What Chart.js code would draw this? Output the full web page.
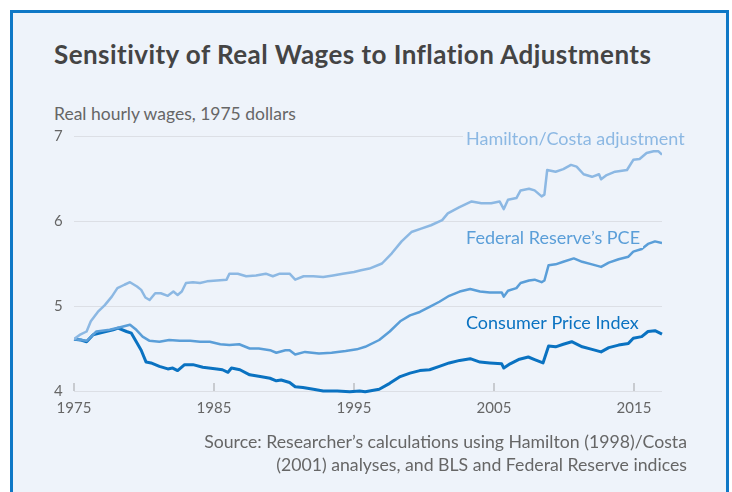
<!DOCTYPE html>
<html>
<head>
<meta charset="utf-8">
<script src="https://cdn.jsdelivr.net/npm/chart.js@4.4.0/dist/chart.umd.min.js"></script>
<style>
    body { margin: 0; background: #fff; font-family: Lato, sans-serif; overflow: hidden; }
    .panel { position: absolute; left: 10px; top: 10px; width: 713px; height: 500px; border: 3px solid #0f78c6; background: #eef3fa; }
    .title { position: absolute; left: 54px; top: 41px; font-size: 26px; line-height: 1; font-weight: bold; letter-spacing: 0.45px; color: #444; white-space: nowrap; }
    .subtitle { position: absolute; left: 54px; top: 105px; font-size: 17.5px; line-height: 1; color: #666; white-space: nowrap; }
    .source { position: absolute; right: 45px; top: 431px; font-size: 17.7px; line-height: 22.5px; color: #666; text-align: right; white-space: nowrap; }
    .chart-wrap { position: absolute; left: 0; top: 0; width: 732px; height: 492px; }
</style>
</head>
<body>
<div class="panel"></div>
<div class="title">Sensitivity of Real Wages to Inflation Adjustments</div>
<div class="subtitle">Real hourly wages, 1975 dollars</div>
<div class="chart-wrap"><canvas id="wageChart"></canvas></div>
<div class="source">Source: Researcher’s calculations using Hamilton (1998)/Costa<br>(2001) analyses, and BLS and Federal Reserve indices</div>
<script>
// Data
const hamiltonYears = [1975.0, 1975.4, 1975.9, 1976.2, 1976.7, 1977.2, 1977.7, 1978.1, 1978.6, 1979.0, 1979.5, 1979.8,
    1980.1, 1980.4, 1980.8, 1981.2, 1981.7, 1982.1, 1982.4, 1982.7, 1983.0, 1983.5, 1984.0, 1984.5, 1985.2, 1985.9,
    1986.1, 1986.7, 1987.3, 1988.0, 1988.7, 1989.2, 1989.7, 1990.4, 1990.8, 1991.4, 1992.1, 1992.8, 1993.5, 1994.2,
    1995.0, 1995.5, 1996.1, 1997.0, 1997.7, 1998.4, 1999.1, 1999.8, 2000.5, 2001.3, 2001.7, 2002.5, 2003.4, 2004.1,
    2004.8, 2005.4, 2005.7, 2006.0, 2006.6, 2006.9, 2007.5, 2007.9, 2008.4, 2008.6, 2008.8, 2009.4, 2009.95, 2010.5,
    2010.9, 2011.4, 2012.0, 2012.5, 2012.65, 2013.05, 2013.65, 2014.5, 2014.95, 2015.4, 2015.9, 2016.4, 2016.75, 2017.0];
const hamiltonValues = [4.61, 4.66, 4.70, 4.82, 4.93, 5.01, 5.11, 5.21, 5.25, 5.28, 5.23, 5.19,
    5.10, 5.07, 5.15, 5.15, 5.12, 5.17, 5.13, 5.17, 5.27, 5.28, 5.27, 5.29, 5.30, 5.31,
    5.38, 5.38, 5.35, 5.36, 5.38, 5.35, 5.38, 5.38, 5.31, 5.35, 5.35, 5.34, 5.36, 5.38,
    5.40, 5.42, 5.44, 5.50, 5.62, 5.76, 5.87, 5.91, 5.95, 6.01, 6.09, 6.16, 6.23, 6.21,
    6.21, 6.23, 6.14, 6.25, 6.27, 6.36, 6.38, 6.36, 6.29, 6.31, 6.60, 6.58, 6.61, 6.66,
    6.64, 6.55, 6.52, 6.55, 6.49, 6.54, 6.58, 6.60, 6.72, 6.73, 6.80, 6.82, 6.82, 6.78];

const pceYears = [1975.0, 1975.5, 1975.9, 1976.6, 1977.55, 1978.3, 1979.0, 1979.45, 1979.9, 1980.4, 1981.1, 1981.8,
    1982.55, 1983.3, 1984.0, 1984.7, 1985.45, 1986.1, 1986.8, 1987.55, 1988.2, 1989.0, 1989.45, 1990.1, 1990.4, 1990.8,
    1991.5, 1992.5, 1993.4, 1994.4, 1995.2, 1995.8, 1996.8, 1997.55, 1998.3, 1999.0, 1999.7, 2000.4, 2001.1, 2001.8,
    2002.55, 2003.3, 2004.0, 2004.7, 2005.55, 2005.7, 2006.0, 2006.6, 2006.9, 2007.5, 2007.9, 2008.4, 2008.6, 2008.9,
    2009.4, 2009.95, 2010.7, 2011.3, 2012.0, 2012.65, 2013.2, 2013.9, 2014.6, 2014.95, 2015.55, 2016.0, 2016.5, 2017.0];
const pceValues = [4.61, 4.60, 4.59, 4.70, 4.72, 4.75, 4.78, 4.72, 4.64, 4.59, 4.58, 4.60,
    4.59, 4.59, 4.58, 4.58, 4.55, 4.54, 4.55, 4.50, 4.50, 4.48, 4.45, 4.48, 4.48, 4.43,
    4.46, 4.44, 4.45, 4.47, 4.49, 4.52, 4.60, 4.70, 4.82, 4.89, 4.93, 4.99, 5.05, 5.12,
    5.17, 5.20, 5.17, 5.16, 5.16, 5.11, 5.18, 5.21, 5.27, 5.30, 5.31, 5.28, 5.30, 5.48,
    5.49, 5.52, 5.56, 5.52, 5.49, 5.46, 5.51, 5.55, 5.58, 5.64, 5.67, 5.73, 5.76, 5.74];

const cpiYears = [1975.0, 1975.5, 1975.9, 1976.35, 1977.05, 1977.8, 1978.15, 1978.75, 1979.1, 1979.45, 1979.8, 1980.15,
    1980.5, 1981.1, 1981.7, 1982.05, 1982.4, 1982.9, 1983.5, 1984.2, 1985.2, 1985.6, 1986.0, 1986.25, 1986.85, 1987.55,
    1988.3, 1989.0, 1989.45, 1989.8, 1990.4, 1990.8, 1991.35, 1992.1, 1992.8, 1993.8, 1994.7, 1995.4, 1995.8, 1996.8,
    1997.55, 1998.3, 1999.0, 1999.7, 2000.4, 2001.1, 2001.8, 2002.55, 2003.3, 2004.0, 2004.7, 2005.55, 2005.7, 2006.15,
    2006.75, 2007.45, 2007.9, 2008.5, 2008.9, 2009.4, 2009.95, 2010.55, 2011.3, 2012.0, 2012.65, 2013.2, 2013.9, 2014.6,
    2014.95, 2015.55, 2016.0, 2016.5, 2017.0];
const cpiValues = [4.61, 4.60, 4.58, 4.66, 4.69, 4.72, 4.74, 4.70, 4.68, 4.58, 4.48, 4.34,
    4.33, 4.29, 4.26, 4.27, 4.24, 4.31, 4.31, 4.28, 4.26, 4.25, 4.22, 4.27, 4.25, 4.19,
    4.17, 4.15, 4.12, 4.13, 4.10, 4.05, 4.04, 4.02, 4.00, 4.00, 3.99, 4.00, 3.99, 4.02,
    4.09, 4.17, 4.21, 4.24, 4.25, 4.29, 4.33, 4.36, 4.38, 4.34, 4.33, 4.32, 4.27, 4.32,
    4.37, 4.40, 4.37, 4.33, 4.53, 4.52, 4.55, 4.58, 4.52, 4.49, 4.46, 4.51, 4.54, 4.56,
    4.62, 4.64, 4.70, 4.71, 4.67];

const seriesNames = ['Hamilton/Costa adjustment', 'Federal Reserve’s PCE', 'Consumer Price Index'];
const xTicks = [1975, 1985, 1995, 2005, 2015];
const yTicks = [4, 5, 6, 7];

const colors = ['#8cb8e3', '#5a9ed8', '#0a72c1'];
const panelBg = '#eef3fa';

function toPoints(xs, ys) {
    return xs.map((x, i) => ({ x: x, y: ys[i] }));
}

// Inline series labels, anchored in data units
const labelAnchors = [
    { year: 2003, value: 6.90 },
    { year: 2003, value: 5.73 },
    { year: 2003, value: 4.73 }
];

const extras = {
    id: 'extras',
    beforeDatasetsDraw(chart) {
        const { ctx, chartArea, scales } = chart;
        ctx.save();
        ctx.strokeStyle = '#c8cbd0';
        ctx.lineWidth = 2;
        xTicks.forEach(v => {
            const px = Math.round(scales.x.getPixelForValue(v));
            ctx.beginPath();
            ctx.moveTo(px, chartArea.bottom);
            ctx.lineTo(px, chartArea.bottom - 8);
            ctx.stroke();
        });
        ctx.restore();
    },
    afterDatasetsDraw(chart) {
        const { ctx, scales } = chart;
        ctx.save();
        ctx.font = '18px Lato';
        ctx.textBaseline = 'alphabetic';
        ctx.textAlign = 'left';
        seriesNames.forEach((name, i) => {
            const px = scales.x.getPixelForValue(labelAnchors[i].year);
            const py = scales.y.getPixelForValue(labelAnchors[i].value);
            const w = ctx.measureText(name).width;
            ctx.fillStyle = panelBg;
            ctx.fillRect(px - 3, py - 14, w + 6, 18);
            ctx.fillStyle = colors[i];
            ctx.fillText(name, px, py);
        });
        ctx.restore();
    }
};

document.addEventListener('DOMContentLoaded', function() {
    Chart.defaults.font.family = 'Lato';
    const ctx = document.getElementById('wageChart').getContext('2d');
    new Chart(ctx, {
        type: 'line',
        data: {
            datasets: [
                { label: seriesNames[0], data: toPoints(hamiltonYears, hamiltonValues), borderColor: colors[0], borderWidth: 2.5 },
                { label: seriesNames[1], data: toPoints(pceYears, pceValues), borderColor: colors[1], borderWidth: 2.5 },
                { label: seriesNames[2], data: toPoints(cpiYears, cpiValues), borderColor: colors[2], borderWidth: 3, clip: 5 }
            ]
        },
        options: {
            responsive: true,
            maintainAspectRatio: false,
            animation: false,
            layout: {
                padding: { left: 54, top: 136, right: 70, bottom: 71 }
            },
            elements: {
                point: { radius: 0 },
                line: { tension: 0, fill: false, borderJoinStyle: 'round' }
            },
            plugins: {
                legend: { display: false },
                tooltip: { enabled: false }
            },
            scales: {
                x: {
                    type: 'linear',
                    min: 1975,
                    max: 2017,
                    grid: { display: false, drawTicks: false },
                    border: { display: false },
                    afterBuildTicks: s => { s.ticks = xTicks.map(v => ({ value: v })); },
                    afterFit: s => { s.height = 30; },
                    ticks: {
                        padding: 8,
                        color: '#666',
                        font: { size: 15 },
                        maxRotation: 0,
                        callback: v => String(v)
                    }
                },
                y: {
                    min: 4,
                    max: 7,
                    grid: { color: '#dcdfe5', lineWidth: 1, drawTicks: false },
                    border: { display: false },
                    afterBuildTicks: s => { s.ticks = yTicks.map(v => ({ value: v })); },
                    afterFit: s => { s.width = 20; },
                    ticks: {
                        crossAlign: 'far',
                        color: '#666',
                        font: { size: 15 }
                    }
                }
            }
        },
        plugins: [extras]
    });
});
</script>
</body>
</html>
